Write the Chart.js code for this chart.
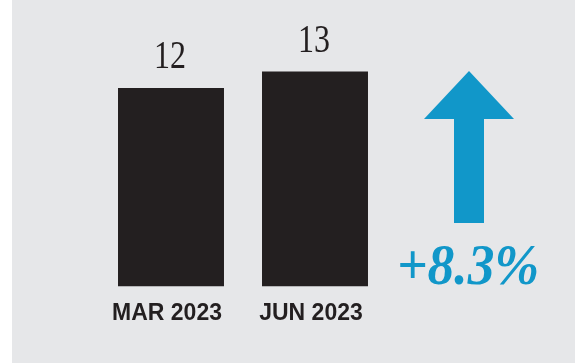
<!DOCTYPE html>
<html>
<head>
<meta charset="utf-8">
<script src="https://cdn.jsdelivr.net/npm/chart.js@4"></script>
<style>
  html, body { margin: 0; padding: 0; background: #ffffff; }
  #wrap { width: 580px; height: 363px; position: relative; }
</style>
</head>
<body>
<div id="wrap"><canvas id="c" width="580" height="363"></canvas></div>
<script>
const categories = ['MAR 2023', 'JUN 2023'];
const values = [12, 13];
const yMax = 16;

const BAR = '#231f20';
const BLUE = '#1197c9';
const PANEL = '#e6e7e9';

const pct = (values[1] - values[0]) / values[0] * 100;
const pctLabel = (pct >= 0 ? '+' : '') + pct.toFixed(1) + '%';

const panelPlugin = {
  id: 'panel',
  beforeDraw(chart) {
    const ctx = chart.ctx;
    ctx.save();
    ctx.fillStyle = PANEL;
    ctx.fillRect(12, 0, 563, chart.height);
    ctx.restore();
  }
};

const valueLabels = {
  id: 'valueLabels',
  afterDatasetsDraw(chart) {
    const ctx = chart.ctx;
    const meta = chart.getDatasetMeta(0);
    ctx.save();
    ctx.fillStyle = BAR;
    ctx.font = '39px "Liberation Serif"';
    ctx.textAlign = 'center';
    ctx.textBaseline = 'alphabetic';
    meta.data.forEach((bar, i) => {
      ctx.fillText(String(values[i]), bar.x - 1, bar.y - 20, 32);
    });
    ctx.restore();
  }
};

const arrowPlugin = {
  id: 'arrow',
  afterDraw(chart) {
    const ctx = chart.ctx;
    ctx.save();
    ctx.fillStyle = BLUE;
    ctx.beginPath();
    ctx.moveTo(469, 71);
    ctx.lineTo(514, 119);
    ctx.lineTo(484, 119);
    ctx.lineTo(484, 223);
    ctx.lineTo(454, 223);
    ctx.lineTo(454, 119);
    ctx.lineTo(424, 119);
    ctx.closePath();
    ctx.fill();
    ctx.font = 'italic bold 57px "Liberation Serif"';
    ctx.textAlign = 'center';
    ctx.textBaseline = 'alphabetic';
    ctx.fillText(pctLabel, 468, 284, 142);
    ctx.restore();
  }
};

new Chart(document.getElementById('c'), {
  type: 'bar',
  data: {
    labels: categories,
    datasets: [{
      data: values,
      backgroundColor: BAR,
      borderWidth: 0,
      categoryPercentage: 1.0,
      barPercentage: 0.736
    }]
  },
  options: {
    responsive: false,
    animation: false,
    events: [],
    layout: { padding: { left: 99, right: 193, top: 22, bottom: 31 } },
    plugins: { legend: { display: false }, tooltip: { enabled: false } },
    scales: {
      y: { display: false, min: 0, max: yMax },
      x: {
        grid: { display: false },
        border: { display: false },
        ticks: {
          color: BAR,
          font: { family: '"Liberation Sans"', weight: 'bold', size: 23 },
          padding: 5,
          labelOffset: -4,
          maxRotation: 0
        }
      }
    }
  },
  plugins: [panelPlugin, valueLabels, arrowPlugin]
});
</script>
</body>
</html>
